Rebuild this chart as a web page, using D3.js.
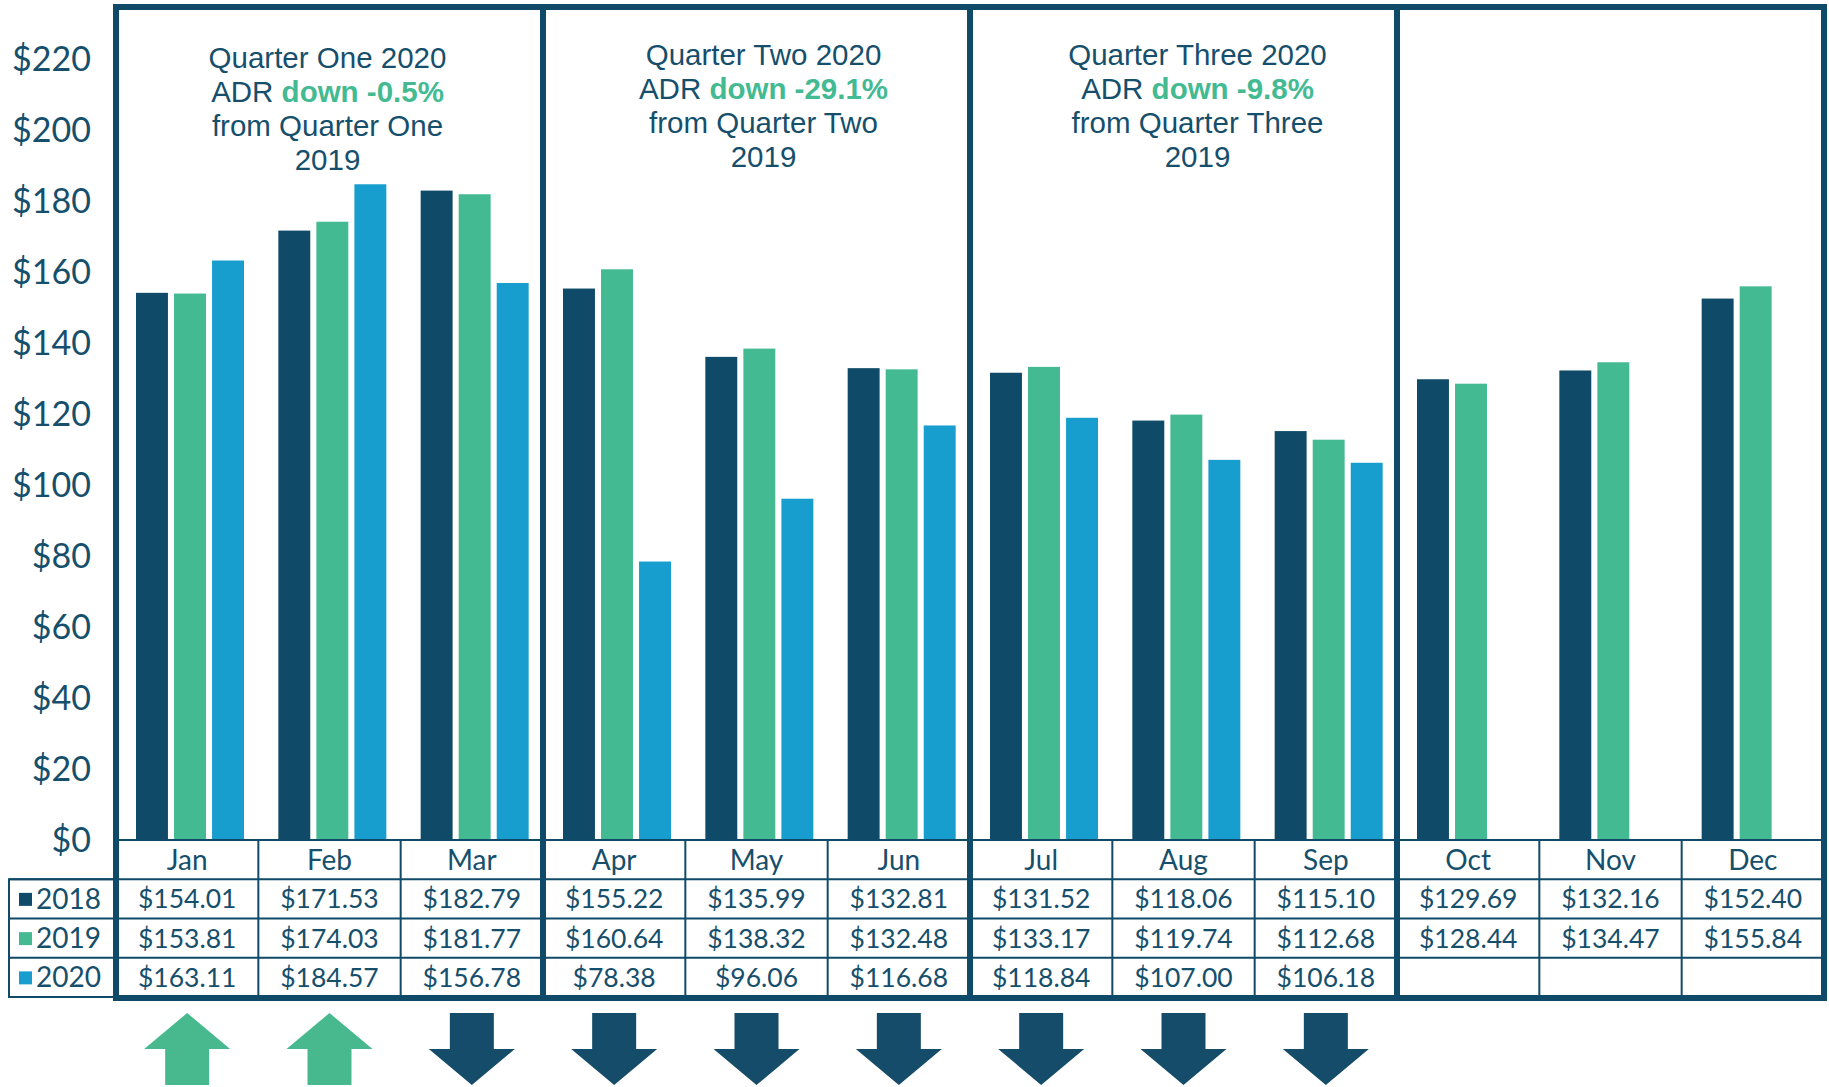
<!DOCTYPE html>
<html>
<head>
<meta charset="utf-8">
<script src="https://cdn.jsdelivr.net/npm/d3@7"></script>
<style>
  html, body { margin: 0; padding: 0; background: #fff; }
  svg { display: block; }
  .num { font-family: Lato, 'Noto Sans', sans-serif; fill: #164f6c; }
  .title { font-family: 'Liberation Sans', Arial, sans-serif; fill: #164f6c; font-size: 29.5px; }
</style>
</head>
<body>
<div id="app"></div>
<script>
const months = ['Jan', 'Feb', 'Mar', 'Apr', 'May', 'Jun', 'Jul', 'Aug', 'Sep', 'Oct', 'Nov', 'Dec'];
const years = ['2018', '2019', '2020'];
const adr2018 = [154.01, 171.53, 182.79, 155.22, 135.99, 132.81, 131.52, 118.06, 115.10, 129.69, 132.16, 152.40];
const adr2019 = [153.81, 174.03, 181.77, 160.64, 138.32, 132.48, 133.17, 119.74, 112.68, 128.44, 134.47, 155.84];
const adr2020 = [163.11, 184.57, 156.78, 78.38, 96.06, 116.68, 118.84, 107.00, 106.18, null, null, null];
const yTicks = [0, 20, 40, 60, 80, 100, 120, 140, 160, 180, 200, 220];
const quarterNames = ['One', 'Two', 'Three', null];
const quarterChanges = ['-0.5%', '-29.1%', '-9.8%', null];

const seriesByYear = { '2018': adr2018, '2019': adr2019, '2020': adr2020 };
const colors = { '2018': '#0f4a68', '2019': '#43ba91', '2020': '#179ece' };
const navy = '#0f4a68';

const width = 1829;
const height = 1087;
const boxTop = 7;
const baseline = 840;
const tableBottom = 997;

// small nudges so the quarter titles sit where the original has them
const titleShift = [[-2, 1], [7, -2], [14, -2]];

const svg = d3.select('#app').append('svg')
  .attr('width', width)
  .attr('height', height)
  .attr('viewBox', `0 0 ${width} ${height}`);

const x = d3.scaleBand().domain(months).range([116, 1824]);
const xYear = d3.scaleBand().domain(years).range([20, 128]).paddingInner(0.16).paddingOuter(0);
const y = d3.scaleLinear().domain([0, 220]).range([baseline, 58.4]);
const rows = d3.scaleBand().domain(['month', ...years]).range([baseline, tableBottom]);

// y axis labels
svg.append('g').selectAll('text')
  .data(yTicks)
  .enter().append('text')
  .classed('num', true)
  .attr('x', 91)
  .attr('y', d => y(d))
  .attr('dy', '0.36em')
  .attr('text-anchor', 'end')
  .style('font-size', '34px')
  .text(d => `$${d}`);

// bars
const bars = months.flatMap((m, i) => years
  .map(yr => ({ month: m, year: yr, value: seriesByYear[yr][i] }))
  .filter(d => d.value != null));

svg.append('g').selectAll('rect')
  .data(bars)
  .enter().append('rect')
  .attr('x', d => x(d.month) + xYear(d.year))
  .attr('y', d => y(d.value))
  .attr('width', xYear.bandwidth())
  .attr('height', d => baseline - y(d.value))
  .attr('fill', d => colors[d.year]);

// table grid
const grid = svg.append('g')
  .attr('stroke', navy)
  .attr('stroke-width', 2)
  .attr('fill', 'none');

[baseline, rows('2018'), rows('2019'), rows('2020')].forEach(ly => {
  grid.append('line')
    .attr('x1', x.range()[0]).attr('x2', x.range()[1])
    .attr('y1', ly).attr('y2', ly);
});

months.forEach(m => {
  grid.append('line')
    .attr('x1', x(m)).attr('x2', x(m))
    .attr('y1', baseline).attr('y2', tableBottom);
});

// legend box on the left of the table
grid.append('rect')
  .attr('x', 9)
  .attr('y', rows('2018'))
  .attr('width', x.range()[0] - 9)
  .attr('height', tableBottom - rows('2018'));
years.forEach(yr => {
  grid.append('line')
    .attr('x1', 9).attr('x2', x.range()[0])
    .attr('y1', rows(yr)).attr('y2', rows(yr));
});

const legend = svg.append('g').selectAll('g')
  .data(years)
  .enter().append('g')
  .attr('transform', yr => `translate(0, ${rows(yr) + rows.bandwidth() / 2})`);

legend.append('rect')
  .attr('x', 19)
  .attr('y', -6)
  .attr('width', 13)
  .attr('height', 13)
  .attr('fill', yr => colors[yr]);

legend.append('text')
  .classed('num', true)
  .attr('x', 36)
  .attr('dy', '0.36em')
  .style('font-size', '28px')
  .text(yr => yr);

// month labels and values
const cells = svg.append('g');

cells.selectAll('text.month')
  .data(months)
  .enter().append('text')
  .classed('num', true)
  .attr('x', m => x(m) + x.bandwidth() / 2)
  .attr('y', rows('month') + rows.bandwidth() / 2)
  .attr('dy', '0.36em')
  .attr('text-anchor', 'middle')
  .style('font-size', '28px')
  .text(m => m);

cells.selectAll('text.value')
  .data(bars)
  .enter().append('text')
  .classed('num', true)
  .attr('x', d => x(d.month) + x.bandwidth() / 2)
  .attr('y', d => rows(d.year) + rows.bandwidth() / 2)
  .attr('dy', '0.36em')
  .attr('text-anchor', 'middle')
  .style('font-size', '26.5px')
  .text(d => `$${d.value.toFixed(2)}`);

// quarter boxes
const quarters = d3.range(4).map(q => ({
  x0: x(months[q * 3]),
  x1: x(months[q * 3 + 2]) + x.bandwidth(),
  name: quarterNames[q],
  change: quarterChanges[q],
  shift: titleShift[q] || [0, 0]
}));

svg.append('g').selectAll('rect')
  .data(quarters)
  .enter().append('rect')
  .attr('x', d => d.x0)
  .attr('y', boxTop)
  .attr('width', d => d.x1 - d.x0)
  .attr('height', tableBottom + 1 - boxTop)
  .attr('fill', 'none')
  .attr('stroke', navy)
  .attr('stroke-width', 6);

// quarter titles
const titles = svg.append('g').selectAll('text')
  .data(quarters.filter(q => q.name))
  .enter().append('text')
  .classed('title', true)
  .attr('text-anchor', 'middle');

const lineHeight = 34;
const firstLine = 67;
const cx = d => (d.x0 + d.x1) / 2 + d.shift[0];
const ly = (d, i) => firstLine + d.shift[1] + lineHeight * i;

titles.append('tspan')
  .attr('x', cx)
  .attr('y', d => ly(d, 0))
  .text(d => `Quarter ${d.name} 2020`);

titles.append('tspan')
  .attr('x', cx)
  .attr('y', d => ly(d, 1))
  .text('ADR ');

titles.append('tspan')
  .attr('fill', '#43ba91')
  .attr('font-weight', 'bold')
  .text(d => `down ${d.change}`);

titles.append('tspan')
  .attr('x', cx)
  .attr('y', d => ly(d, 2))
  .text(d => `from Quarter ${d.name}`);

titles.append('tspan')
  .attr('x', cx)
  .attr('y', d => ly(d, 3))
  .text('2019');

// change arrows (2020 vs 2019)
const arrowTop = 1013;
const arrowHeight = 72;
const headHeight = 36;
const headHalf = 43;
const shaftHalf = 22;

const arrowPath = up => {
  const pts = up
    ? [[0, 0], [headHalf, headHeight], [shaftHalf, headHeight], [shaftHalf, arrowHeight],
       [-shaftHalf, arrowHeight], [-shaftHalf, headHeight], [-headHalf, headHeight]]
    : [[-shaftHalf, 0], [shaftHalf, 0], [shaftHalf, arrowHeight - headHeight],
       [headHalf, arrowHeight - headHeight], [0, arrowHeight],
       [-headHalf, arrowHeight - headHeight], [-shaftHalf, arrowHeight - headHeight]];
  return d3.line()(pts) + 'Z';
};

const arrows = months
  .map((m, i) => ({ month: m, up: adr2020[i] > adr2019[i], has: adr2020[i] != null }))
  .filter(d => d.has);

svg.append('g').selectAll('path')
  .data(arrows)
  .enter().append('path')
  .attr('transform', d => `translate(${x(d.month) + x.bandwidth() / 2}, ${arrowTop})`)
  .attr('d', d => arrowPath(d.up))
  .attr('fill', d => d.up ? '#48b98f' : '#154c69');
</script>
</body>
</html>
